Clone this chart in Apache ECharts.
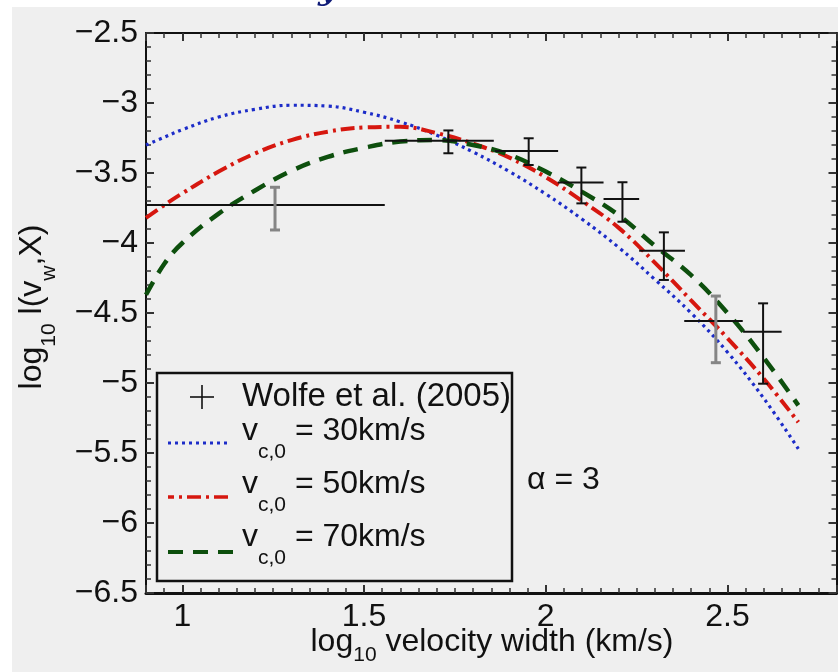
<!DOCTYPE html>
<html>
<head>
<meta charset="utf-8">
<script src="https://cdn.jsdelivr.net/npm/echarts@6/dist/echarts.min.js"></script>
<style>
  html, body { margin: 0; padding: 0; background: #ffffff; }
  #chart { width: 838px; height: 672px; }
</style>
</head>
<body>
<div id="chart"></div>
<script>
// log10 velocity width grid shared by the three model curves
const curveX = [0.9, 0.95, 1.0, 1.1, 1.2, 1.3, 1.4, 1.5, 1.6, 1.7, 1.8, 1.9, 2.0, 2.1, 2.2, 2.3, 2.4, 2.5, 2.6, 2.695];
// model curves, log10 l(v_w, X), for three values of v_c,0
const logL_vc30 = [-3.30, -3.245, -3.19, -3.10, -3.045, -3.016, -3.022, -3.066, -3.135, -3.23, -3.35, -3.49, -3.65, -3.83, -4.03, -4.26, -4.50, -4.78, -5.11, -5.47];
const logL_vc50 = [-3.82, -3.73, -3.645, -3.49, -3.36, -3.265, -3.205, -3.175, -3.17, -3.215, -3.29, -3.39, -3.53, -3.70, -3.89, -4.14, -4.41, -4.68, -4.97, -5.28];
const logL_vc70 = [-4.37, -4.15, -4.00, -3.79, -3.625, -3.485, -3.385, -3.32, -3.275, -3.265, -3.30, -3.37, -3.49, -3.635, -3.80, -4.02, -4.23, -4.50, -4.82, -5.16];

// Wolfe et al. (2005) measurements with bin widths and errors
const wolfeX     = [1.255, 1.732, 1.953, 2.098, 2.211, 2.325, 2.468, 2.598];
const wolfeY     = [-3.729, -3.269, -3.342, -3.568, -3.686, -4.055, -4.558, -4.634];
const wolfeXLow  = [0.9, 1.557, 1.860, 2.033, 2.159, 2.257, 2.381, 2.543];
const wolfeXHigh = [1.557, 1.857, 2.034, 2.159, 2.257, 2.383, 2.542, 2.649];
const wolfeYLow  = [-3.907, -3.359, -3.443, -3.717, -3.848, -4.264, -4.855, -5.005];
const wolfeYHigh = [-3.602, -3.196, -3.252, -3.461, -3.566, -3.924, -4.379, -4.431];

// tick labels
const xTickValues = [1, 1.5, 2, 2.5];
const xTickLabels = ['1', '1.5', '2', '2.5'];
const yTickValues = [-6.5, -6, -5.5, -5, -4.5, -4, -3.5, -3, -2.5];
const yTickLabels = ['\u22126.5', '\u22126', '\u22125.5', '\u22125', '\u22124.5', '\u22124', '\u22123.5', '\u22123', '\u22122.5'];

const FONT = '"Liberation Sans", Arial, Helvetica, sans-serif';
const INK = '#111111';
const TICK = '#333333';
const BLUE = '#1c2cc8';
const RED = '#d6170f';
const GREEN = '#0d4f0d';
const blueDash = [3, 4];
const redDash = [14, 5, 3, 5];
const greenDash = [15, 10];
// error bars drawn in a lighter grey
const softBars = [0, 6];

function pairs(xs, ys) { return xs.map((x, i) => [x, ys[i]]); }

function lookup(values, labels) {
  return function (v) {
    for (let i = 0; i < values.length; i++) {
      if (Math.abs(values[i] - v) < 1e-9) return labels[i];
    }
    return '';
  };
}

const errData = wolfeX.map((x, i) => [x, wolfeY[i], wolfeXLow[i], wolfeXHigh[i], wolfeYLow[i], wolfeYHigh[i]]);

function renderErr(params, api) {
  const c = api.coord([api.value(0), api.value(1)]);
  const l = api.coord([api.value(2), api.value(1)]);
  const r = api.coord([api.value(3), api.value(1)]);
  const b = api.coord([api.value(0), api.value(4)]);
  const t = api.coord([api.value(0), api.value(5)]);
  const soft = softBars.indexOf(params.dataIndex) >= 0;
  const vs = { stroke: soft ? '#858585' : INK, lineWidth: soft ? 3 : 2 };
  const cap = 5;
  return {
    type: 'group',
    children: [
      { type: 'line', shape: { x1: l[0], y1: c[1], x2: r[0], y2: c[1] }, style: { stroke: INK, lineWidth: 2 } },
      { type: 'line', shape: { x1: c[0], y1: t[1], x2: c[0], y2: b[1] }, style: vs },
      { type: 'line', shape: { x1: c[0] - cap, y1: t[1], x2: c[0] + cap, y2: t[1] }, style: vs },
      { type: 'line', shape: { x1: c[0] - cap, y1: b[1], x2: c[0] + cap, y2: b[1] }, style: vs }
    ]
  };
}

const axisFont = { fontFamily: FONT, fontSize: 32, color: INK };

// major axes carry the frame and labels; minor axes only add 0.05-step ticks
function xAxisDef(position, showLabels, minor) {
  const a = {
    type: 'value', gridIndex: 0, position: position, min: 0.9, max: 2.8,
    splitLine: { show: false },
    axisLine: { show: !minor, onZero: false, lineStyle: { color: INK, width: position === 'bottom' ? 3 : 2 } },
    axisTick: { show: true, inside: true, length: minor ? 5 : 8, lineStyle: { color: TICK, width: minor ? 1.5 : 2 } },
    axisLabel: Object.assign({ show: showLabels, margin: 8, formatter: lookup(xTickValues, xTickLabels) }, axisFont)
  };
  if (minor) { a.interval = 0.05; } else { a.splitNumber = 4; }
  return a;
}

function yAxisDef(position, showLabels) {
  return {
    type: 'value', gridIndex: 0, position: position, min: -6.5, max: -2.5, interval: 0.5,
    splitLine: { show: false },
    axisLine: { show: true, onZero: false, lineStyle: { color: INK, width: 2 } },
    axisTick: { show: true, inside: true, length: 8, lineStyle: { color: TICK, width: 2 } },
    minorTick: { show: true, splitNumber: 5, length: 5, lineStyle: { color: TICK, width: 1.5 } },
    axisLabel: Object.assign({ show: showLabels, margin: 8, formatter: lookup(yTickValues, yTickLabels) }, axisFont)
  };
}

const richTitle = function (subShift) {
  return {
    m: { fontFamily: FONT, fontSize: 32, lineHeight: 32, fill: INK },
    s: { fontFamily: FONT, fontSize: 21, lineHeight: 21, fill: INK, padding: [subShift * 2, 0, 0, 0] }
  };
};

const legendRich = {
  m: { fontFamily: FONT, fontSize: 32, lineHeight: 32, fill: INK },
  s: { fontFamily: FONT, fontSize: 21, lineHeight: 21, fill: INK, padding: [42, 0, 0, 0] }
};

const graphics = [
  { type: 'rect', z: -100, silent: true, shape: { x: 0, y: 0, width: 838, height: 7 }, style: { fill: '#ffffff' } },
  { type: 'rect', z: -100, silent: true, shape: { x: 0, y: 0, width: 12, height: 672 }, style: { fill: '#ffffff' } },
  // tail of the heading glyph above the panel
  { type: 'text', x: 328, y: 7, silent: true,
    style: { text: 'y', font: 'italic bold 34px "DejaVu Serif", serif', fill: '#101c78', align: 'center', verticalAlign: 'bottom' } },
  // axis titles
  { type: 'text', x: 492, y: 642, silent: true,
    style: { text: '{m|log}{s|10}{m| velocity width (km/s)}', rich: richTitle(13), align: 'center', verticalAlign: 'middle' } },
  { type: 'text', x: 32, y: 307, rotation: Math.PI / 2, silent: true,
    style: { text: '{m|log}{s|10}{m| l(v}{s|w}{m|,X)}', rich: richTitle(17), align: 'center', verticalAlign: 'middle' } },
  // legend box
  { type: 'rect', silent: true, shape: { x: 157, y: 373, width: 355, height: 208 }, style: { fill: 'rgba(0,0,0,0)', stroke: INK, lineWidth: 2.5 } },
  { type: 'line', silent: true, shape: { x1: 190, y1: 397, x2: 214, y2: 397 }, style: { stroke: INK, lineWidth: 1.6 } },
  { type: 'line', silent: true, shape: { x1: 202, y1: 385, x2: 202, y2: 409 }, style: { stroke: INK, lineWidth: 1.6 } },
  { type: 'text', x: 242, y: 397, silent: true,
    style: { text: 'Wolfe et al. (2005)', fontFamily: FONT, fontSize: 33, fill: INK, align: 'left', verticalAlign: 'middle' } },
  { type: 'line', silent: true, shape: { x1: 168, y1: 443, x2: 230, y2: 443 }, style: { stroke: BLUE, lineWidth: 3, lineDash: blueDash } },
  { type: 'line', silent: true, shape: { x1: 168, y1: 497, x2: 232, y2: 497 }, style: { stroke: RED, lineWidth: 3.5, lineDash: redDash, lineDashOffset: 8 } },
  { type: 'line', silent: true, shape: { x1: 168, y1: 552, x2: 233, y2: 552 }, style: { stroke: GREEN, lineWidth: 4, lineDash: greenDash } },
  { type: 'text', x: 242, y: 431, silent: true,
    style: { text: '{m|v}{s|c,0}{m| = 30km/s}', rich: legendRich, align: 'left', verticalAlign: 'middle' } },
  { type: 'text', x: 242, y: 484, silent: true,
    style: { text: '{m|v}{s|c,0}{m| = 50km/s}', rich: legendRich, align: 'left', verticalAlign: 'middle' } },
  { type: 'text', x: 242, y: 537, silent: true,
    style: { text: '{m|v}{s|c,0}{m| = 70km/s}', rich: legendRich, align: 'left', verticalAlign: 'middle' } },
  // model parameter
  { type: 'text', x: 527, y: 480, silent: true,
    style: { text: '\u03b1 = 3', fontFamily: FONT, fontSize: 32, fill: INK, align: 'left', verticalAlign: 'middle' } }
];

const chart = echarts.init(document.getElementById('chart'), null, { renderer: 'canvas' });
chart.setOption({
  backgroundColor: '#efefef',
  animation: false,
  tooltip: { show: false },
  grid: { left: 146, right: 1.5, top: 33, bottom: 79, containLabel: false, outerBoundsMode: 'none' },
  xAxis: [
    xAxisDef('bottom', true, false),
    xAxisDef('top', false, false),
    xAxisDef('bottom', false, true),
    xAxisDef('top', false, true)
  ],
  yAxis: [
    yAxisDef('left', true),
    yAxisDef('right', false)
  ],
  series: [
    { name: 'v_c,0 = 30km/s', type: 'line', xAxisIndex: 0, yAxisIndex: 0, data: pairs(curveX, logL_vc30),
      smooth: 0.4, showSymbol: false, z: 2,
      lineStyle: { color: BLUE, width: 3.2, type: blueDash } },
    { name: 'v_c,0 = 50km/s', type: 'line', xAxisIndex: 0, yAxisIndex: 0, data: pairs(curveX, logL_vc50),
      smooth: 0.4, showSymbol: false, z: 2,
      lineStyle: { color: RED, width: 4, type: redDash } },
    { name: 'v_c,0 = 70km/s', type: 'line', xAxisIndex: 0, yAxisIndex: 0, data: pairs(curveX, logL_vc70),
      smooth: 0.4, showSymbol: false, z: 2,
      lineStyle: { color: GREEN, width: 4.5, type: greenDash } },
    { name: 'Wolfe et al. (2005)', type: 'custom', xAxisIndex: 0, yAxisIndex: 0, data: errData,
      encode: { x: [0, 2, 3], y: [1, 4, 5] }, renderItem: renderErr, clip: true, z: 3 }
  ],
  graphic: { elements: graphics }
});
</script>
</body>
</html>
